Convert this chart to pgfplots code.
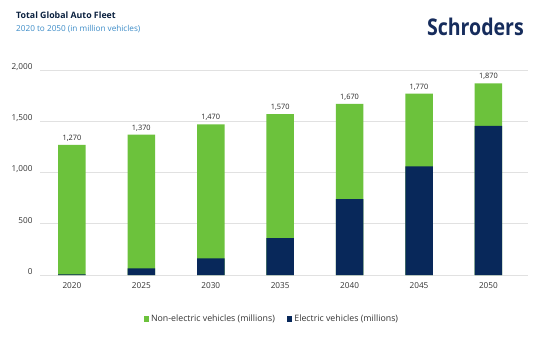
\documentclass[border=0pt]{standalone}
\usepackage{pgfplots}
\pgfplotsset{compat=1.18}
\usepackage{pgfplotstable}
\usepackage{fontspec}
\setmainfont{Open Sans}
\definecolor{sgreen}{RGB}{108,194,60}
\definecolor{snavy}{RGB}{8,40,90}
\definecolor{stitle}{RGB}{12,34,64}
\definecolor{slogo}{RGB}{22,44,92}
\definecolor{ssub}{RGB}{60,140,200}
\definecolor{sgrid}{RGB}{225,225,225}
\pgfplotstableread{
x total electric
0 1270 6
1 1370 65
2 1470 162
3 1570 360
4 1670 740
5 1770 1060
6 1870 1455
}\fleet
\begin{document}
\begin{tikzpicture}[x=1pt,y=1pt]
\path[fill=white] (0,0) rectangle (539,341);
\node[anchor=north west,inner sep=0pt,font=\fontsize{8.8}{10}\selectfont\bfseries,text=stitle] at (16,329) {Total Global Auto Fleet};
\node[anchor=north west,inner sep=0pt,font=\fontsize{8.2}{10}\selectfont,text=ssub] at (16,316) {2020 to 2050 (in million vehicles)};
\node[anchor=east,inner sep=0pt,font=\fontsize{23}{26}\selectfont\bfseries,text=slogo,xscale=0.85] at (524,314) {Schroders};
\begin{axis}[
  at={(40pt,66pt)}, anchor=south west,
  scale only axis, width=488pt, height=205pt,
  ymin=0, ymax=2000, xmin=-0.46, xmax=6.57,
  ytick={0,500,1000,1500,2000},
  /pgf/number format/1000 sep={,},
  /pgf/number format/assume math mode=true,
  xtick=data, xticklabels={2020,2025,2030,2035,2040,2045,2050},
  tick label style={font=\fontsize{8.2}{10}\selectfont, text=black!80},
  ymajorgrids, grid style={sgrid, line width=0.6pt},
  axis line style={draw=none},
  major tick length=0pt,
  yticklabel style={xshift=-4pt, yshift=3pt},
  xticklabel style={yshift=-4pt},
  ybar, bar width=27.5pt, bar shift=0pt,
  legend style={at={(0.475,-0.175)}, anchor=north, draw=none, legend columns=2,
    font=\fontsize{8.8}{10}\selectfont, text=black!80,
    /tikz/every even column/.append style={column sep=10pt}},
  legend image code/.code={\fill[#1] (0pt,-2.5pt) rectangle (5.5pt,3pt);},
  nodes near coords style={font=\fontsize{7.4}{9}\selectfont, text=black!85},
]
\addplot[fill=sgreen, draw=none,
  point meta=explicit,
  nodes near coords={\pgfmathprintnumber{\pgfplotspointmeta}}]
  table[x=x, y=total, meta=total] {\fleet};
\addlegendentry{Non-electric vehicles (millions)}
\addplot[fill=snavy, draw=none] table[x=x, y=electric] {\fleet};
\addlegendentry{Electric vehicles (millions)}
\end{axis}
\end{tikzpicture}
\end{document}
